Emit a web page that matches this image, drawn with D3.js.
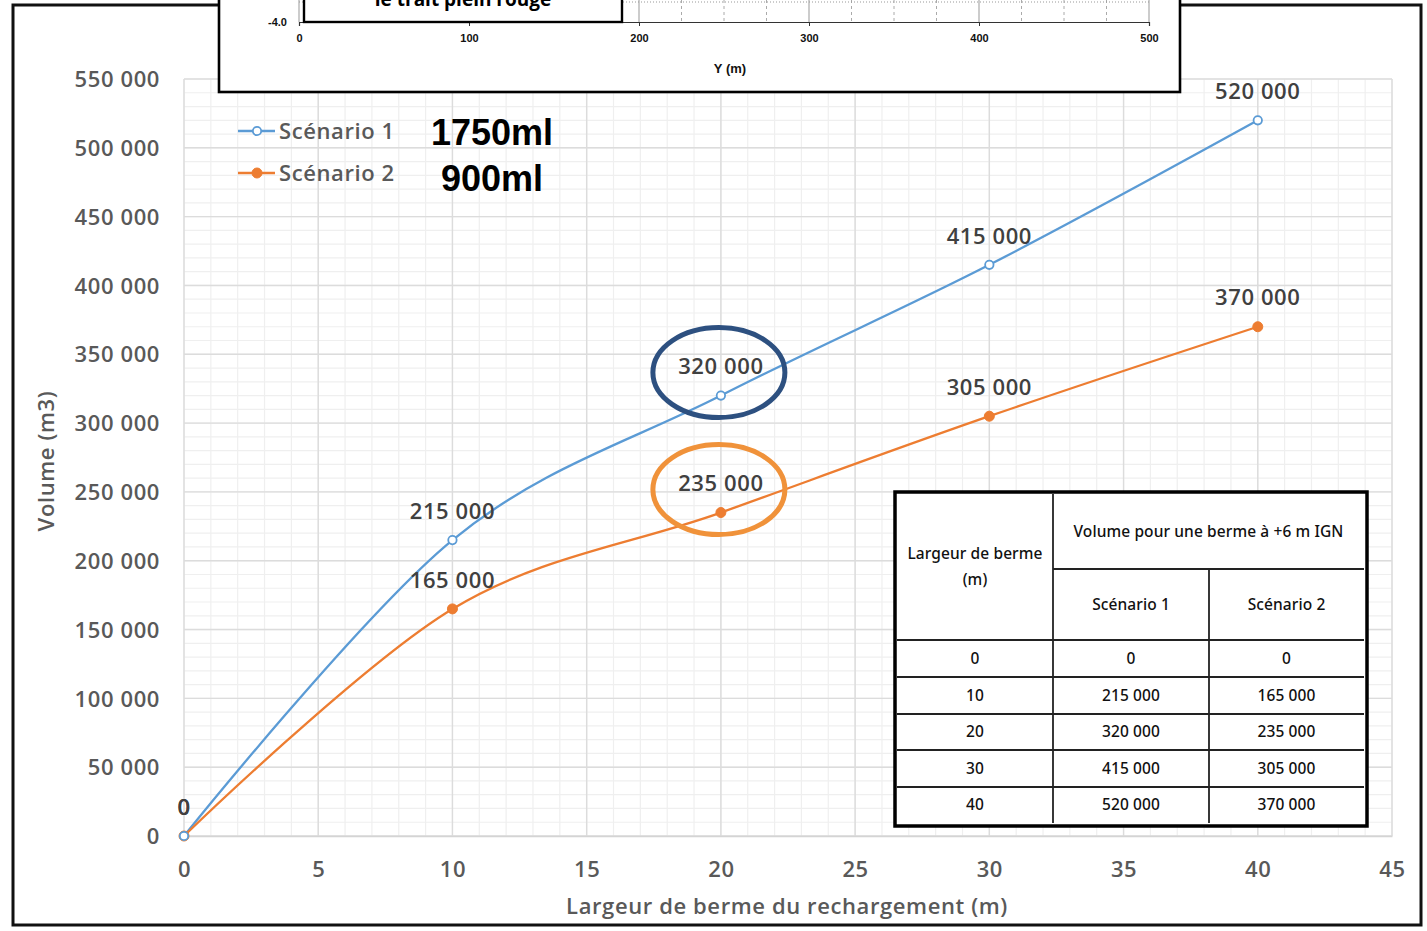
<!DOCTYPE html>
<html>
<head>
<meta charset="utf-8">
<script src="https://cdn.jsdelivr.net/npm/d3@7"></script>
<style>
  html, body { margin: 0; padding: 0; background: #fff; }
  svg { display: block; }
</style>
</head>
<body>
<svg id="chart" width="1427" height="931"></svg>
<script>
// Berm width (m) and fill volumes (m3) for the two scenarios
const bermWidths = [0, 10, 20, 30, 40];
const scenario1 = [0, 215000, 320000, 415000, 520000];
const scenario2 = [0, 165000, 235000, 305000, 370000];
const seriesNames = ["Scénario 1", "Scénario 2"];
const seriesLengths = ["1750ml", "900ml"];
const xTicks = [0, 5, 10, 15, 20, 25, 30, 35, 40, 45];
const yTicks = [0, 50000, 100000, 150000, 200000, 250000, 300000, 350000, 400000, 450000, 500000, 550000];
const highlightWidth = 20;

// Cross-section profile strip (axis only is visible)
const profileTicks = [0, 100, 200, 300, 400, 500];

const fr = d3.formatLocale({ decimal: ",", thousands: " ", grouping: [3], currency: ["", ""] });
const fmt = fr.format(",");

const svg = d3.select("#chart");
const FONT = "'Open Sans', 'Noto Sans', sans-serif";
const FS = 22, LS = 0.6;

// Outer frame
svg.append("rect").attr("x", 13).attr("y", 5).attr("width", 1408).attr("height", 920)
  .attr("fill", "#fff").attr("stroke", "#111").attr("stroke-width", 3);

const x = d3.scaleLinear().domain([0, 45]).range([184, 1392]);
const y = d3.scaleLinear().domain([0, 550000]).range([836, 79]);

// Grid: minor then major
const grid = svg.append("g");
grid.selectAll("line.vmin").data(d3.range(0, 46, 1)).join("line")
  .attr("x1", d => x(d)).attr("x2", d => x(d)).attr("y1", y(550000)).attr("y2", y(0))
  .attr("stroke", "#efefef").attr("stroke-width", 1.2);
grid.selectAll("line.hmin").data(d3.range(0, 550001, 10000)).join("line")
  .attr("x1", x(0)).attr("x2", x(45)).attr("y1", d => y(d)).attr("y2", d => y(d))
  .attr("stroke", "#efefef").attr("stroke-width", 1.2);
grid.selectAll("line.vmaj").data(xTicks).join("line")
  .attr("x1", d => x(d)).attr("x2", d => x(d)).attr("y1", y(550000)).attr("y2", y(0))
  .attr("stroke", "#dcdcdc").attr("stroke-width", 1.4);
grid.selectAll("line.hmaj").data(yTicks).join("line")
  .attr("x1", x(0)).attr("x2", x(45)).attr("y1", d => y(d)).attr("y2", d => y(d))
  .attr("stroke", "#dcdcdc").attr("stroke-width", 1.4);

const styleText = sel => sel.attr("font-family", FONT).attr("font-size", FS).attr("font-weight", 600)
  .attr("letter-spacing", LS);

// Axes (labels only)
const yAxis = d3.axisLeft(y).tickValues(yTicks).tickFormat(fmt).tickSize(0).tickPadding(24);
const gy = svg.append("g").attr("transform", `translate(${x(0)},0)`).call(yAxis);
gy.select(".domain").remove();
gy.selectAll("text").call(styleText).attr("fill", "#595959").attr("dy", "0.35em");

const xAxis = d3.axisBottom(x).tickValues(xTicks).tickFormat(d3.format("d")).tickSize(0).tickPadding(25);
const gx = svg.append("g").attr("transform", `translate(0,${y(0)})`).call(xAxis);
gx.select(".domain").attr("stroke", "#d4d4d4").attr("stroke-width", 1.6);
gx.selectAll("text").call(styleText).attr("fill", "#595959");

svg.append("text").attr("x", 787).attr("y", 914).attr("text-anchor", "middle")
  .call(styleText).attr("fill", "#595959")
  .text("Largeur de berme du rechargement (m)");
svg.append("text").attr("transform", "translate(54,461) rotate(-90)").attr("text-anchor", "middle")
  .call(styleText).attr("fill", "#595959")
  .text("Volume (m3)");

// Series
const series = [
  { name: seriesNames[0], values: scenario1, color: "#5B9BD5", open: true },
  { name: seriesNames[1], values: scenario2, color: "#ED7D31", open: false }
];
const line = d3.line().x(d => x(d[0])).y(d => y(d[1])).curve(d3.curveCatmullRom.alpha(0));

series.forEach(s => {
  const pts = bermWidths.map((w, i) => [w, s.values[i]]);
  svg.append("path").datum(pts).attr("d", line).attr("fill", "none")
    .attr("stroke", s.color).attr("stroke-width", 2.3);
});
series.slice().reverse().forEach(s => {
  const pts = bermWidths.map((w, i) => [w, s.values[i]]);
  svg.append("g").selectAll("circle").data(pts).join("circle")
    .attr("cx", d => x(d[0])).attr("cy", d => y(d[1]))
    .attr("r", s.open ? 4.2 : 5)
    .attr("fill", s.open ? "#fff" : s.color)
    .attr("stroke", s.color).attr("stroke-width", s.open ? 1.8 : 1);
});

// Data labels
series.forEach(s => {
  svg.append("g").selectAll("text").data(bermWidths.map((w, i) => [w, s.values[i]])).join("text")
    .attr("x", d => x(d[0])).attr("y", d => y(d[1]) - 29)
    .attr("dy", "0.35em").attr("text-anchor", "middle")
    .call(styleText).attr("fill", "#404040")
    .text(d => fmt(d[1]));
});

// Highlight ellipses around the values at the reference width
const hi = bermWidths.indexOf(highlightWidth);
[[scenario1[hi], "#2D5080"], [scenario2[hi], "#F0923A"]].forEach(([v, c]) => {
  svg.append("ellipse").attr("cx", x(highlightWidth) - 2).attr("cy", y(v) - 23)
    .attr("rx", 66).attr("ry", 45).attr("fill", "none")
    .attr("stroke", c).attr("stroke-width", 5);
});

// Legend
series.forEach((s, i) => {
  const ly = 131 + i * 42;
  const g = svg.append("g");
  g.append("line").attr("x1", 238).attr("x2", 275).attr("y1", ly).attr("y2", ly)
    .attr("stroke", s.color).attr("stroke-width", 2.3);
  g.append("circle").attr("cx", 257).attr("cy", ly).attr("r", s.open ? 4.2 : 5)
    .attr("fill", s.open ? "#fff" : s.color).attr("stroke", s.color).attr("stroke-width", s.open ? 1.8 : 1);
  g.append("text").attr("x", 279).attr("y", ly).attr("dy", "0.35em")
    .call(styleText).attr("fill", "#595959")
    .text(s.name);
  g.append("text").attr("x", 492).attr("y", ly + 1 + i * 4).attr("dy", "0.35em").attr("text-anchor", "middle")
    .attr("font-family", "'Liberation Sans', Arial, sans-serif").attr("font-size", 36).attr("font-weight", 700)
    .attr("fill", "#000").text(seriesLengths[i]);
});

// Cross-section strip at the top of the page
const inset = svg.append("g");
inset.append("rect").attr("x", 219).attr("y", -5).attr("width", 961).attr("height", 97)
  .attr("fill", "#fff").attr("stroke", "#000").attr("stroke-width", 2.6);
const px = d3.scaleLinear().domain([0, 500]).range([299, 1149]);
inset.selectAll("line.pg").data(d3.range(0, 501, 25)).join("line")
  .attr("x1", d => px(d)).attr("x2", d => px(d)).attr("y1", 0).attr("y2", 22)
  .attr("stroke", d => d % 100 === 0 ? "#999" : "#aaa")
  .attr("stroke-width", 1)
  .attr("stroke-dasharray", d => d % 100 === 0 ? null : "3,3");
inset.append("line").attr("x1", px(0)).attr("x2", px(500)).attr("y1", 2).attr("y2", 2)
  .attr("stroke", "#999").attr("stroke-dasharray", "1,2");
const pAxis = d3.axisBottom(px).tickValues(profileTicks).tickFormat(d3.format("d")).tickSize(4).tickPadding(8);
const gp = inset.append("g").attr("transform", "translate(0,22)").call(pAxis);
gp.select(".domain").attr("stroke", "#333").attr("stroke-width", 1.2);
gp.selectAll("line").attr("stroke", "#333");
gp.selectAll("text").attr("font-family", "'Liberation Sans', Arial, sans-serif").attr("font-size", 11)
  .attr("font-weight", 700).attr("fill", "#111");
inset.append("text").attr("x", 287).attr("y", 26).attr("text-anchor", "end")
  .attr("font-family", "'Liberation Sans', Arial, sans-serif").attr("font-size", 11).attr("font-weight", 700)
  .attr("fill", "#111").text("-4.0");
inset.append("text").attr("x", 730).attr("y", 73).attr("text-anchor", "middle")
  .attr("font-family", "'Liberation Sans', Arial, sans-serif").attr("font-size", 13).attr("font-weight", 700)
  .attr("fill", "#111").text("Y  (m)");
inset.append("rect").attr("x", 304).attr("y", -10).attr("width", 318).attr("height", 32)
  .attr("fill", "#fff").attr("stroke", "#000").attr("stroke-width", 2.4);
inset.append("text").attr("x", 463).attr("y", 6).attr("text-anchor", "middle")
  .attr("font-family", FONT).attr("font-size", 19).attr("font-weight", 700).attr("fill", "#000")
  .text("le trait plein rouge");

// Summary table
const tbl = svg.append("g");
const colX = [897, 1053, 1209, 1364];
const rowY = [494, 569, 640, 677, 714, 750, 787, 823];
tbl.append("rect").attr("x", 895).attr("y", 492).attr("width", 472).attr("height", 334)
  .attr("fill", "#fff").attr("stroke", "#000").attr("stroke-width", 3.5);
const ln = (x1, y1, x2, y2) => tbl.append("line").attr("x1", x1).attr("y1", y1).attr("x2", x2).attr("y2", y2)
  .attr("stroke", "#222").attr("stroke-width", 1.8);
ln(colX[1], rowY[0], colX[1], rowY[7]);
ln(colX[2], rowY[1], colX[2], rowY[7]);
ln(colX[1], rowY[1], colX[3], rowY[1]);
for (let r = 2; r < 7; r++) ln(colX[0], rowY[r], colX[3], rowY[r]);
const tt = (cx, cy, s) => tbl.append("text").attr("x", cx).attr("y", cy).attr("dy", "0.35em")
  .attr("text-anchor", "middle").attr("font-family", "'Noto Sans', sans-serif").attr("font-size", 15.5)
  .attr("font-weight", 500).attr("fill", "#111").attr("letter-spacing", 0.1).text(s);
tt((colX[0] + colX[1]) / 2, 554, "Largeur de berme");
tt((colX[0] + colX[1]) / 2, 580, "(m)");
tt((colX[1] + colX[3]) / 2, 532, "Volume pour une berme à +6 m IGN");
tt((colX[1] + colX[2]) / 2, 605, seriesNames[0]);
tt((colX[2] + colX[3]) / 2, 605, seriesNames[1]);
bermWidths.forEach((w, i) => {
  const cy = (rowY[i + 2] + rowY[i + 3]) / 2;
  tt((colX[0] + colX[1]) / 2, cy, String(w));
  tt((colX[1] + colX[2]) / 2, cy, fmt(scenario1[i]));
  tt((colX[2] + colX[3]) / 2, cy, fmt(scenario2[i]));
});
</script>
</body>
</html>
